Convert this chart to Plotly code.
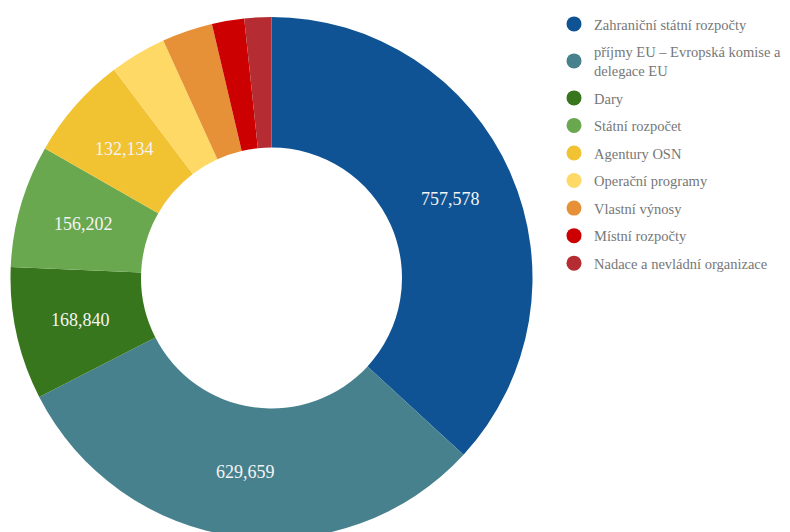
import math
import plotly.graph_objects as go

categories = [
    "Zahraniční státní rozpočty",
    "příjmy EU – Evropská komise a<br>delegace EU",
    "Dary",
    "Státní rozpočet",
    "Agentury OSN",
    "Operační programy",
    "Vlastní výnosy",
    "Místní rozpočty",
    "Nadace a nevládní organizace",
]
values = [757578, 629659, 168840, 156202, 132134, 72000, 64500, 41100, 34300]
colors = ["#0F5394", "#47818E", "#38761D", "#6AA84F", "#F1C232",
          "#FFD966", "#E69138", "#CC0000", "#B52D32"]

HOLE = 0.5
LABEL_MIN_SHARE = 0.05

W, H = 790, 532
# page body has an 8px default margin; coordinates below are in figure pixels
cx, cy_top, R = 263.5, 270, 261
dom_x = [(cx - R) / W, (cx + R) / W]
dom_y = [(H - cy_top - R) / H, (H - cy_top + R) / H]

fig = go.Figure()
fig.add_trace(go.Pie(
    labels=categories,
    values=values,
    textinfo="none",
    hole=HOLE,
    sort=False,
    direction="clockwise",
    rotation=0,
    marker=dict(colors=colors, line=dict(width=0)),
    showlegend=False,
    domain=dict(x=dom_x, y=dom_y),
    hoverinfo="label+value+percent",
))

for i, (name, col) in enumerate(zip(categories, colors)):
    fig.add_trace(go.Scatter(
        x=[None], y=[None], mode="markers", name=name,
        legendgroup=f"g{i}",
        marker=dict(symbol="circle", size=15, color=col),
        showlegend=True, hoverinfo="skip",
    ))

# value labels at the middle of the ring, on each slice's mid-angle
total = sum(values)
rmid = (1 + HOLE) / 2
cum = 0
annotations = []
for v in values:
    a0 = cum / total
    cum += v
    a1 = cum / total
    if v / total <= LABEL_MIN_SHARE:
        continue
    ang = (a0 + a1) / 2 * 2 * math.pi
    annotations.append(dict(
        x=rmid * math.sin(ang), y=rmid * math.cos(ang),
        xref="x", yref="y", text=f"{v:,}", showarrow=False,
        font=dict(family="Liberation Serif", size=18, color="#F4F4F4"),
        xanchor="center", yanchor="middle",
    ))

fig.update_layout(
    width=W, height=H,
    margin=dict(l=0, r=0, t=0, b=0),
    paper_bgcolor="white", plot_bgcolor="rgba(0,0,0,0)",
    xaxis=dict(visible=False, domain=dom_x, range=[-1, 1], fixedrange=True),
    yaxis=dict(visible=False, domain=dom_y, range=[-1, 1], fixedrange=True),
    annotations=annotations,
    legend=dict(
        x=546 / W, xanchor="left", y=1, yanchor="top",
        font=dict(family="Liberation Serif", size=14.5, color="#777777"),
        traceorder="grouped", tracegroupgap=5.7,
        itemsizing="trace",
        bgcolor="rgba(0,0,0,0)",
    ),
)

fig.write_html("out.html")
